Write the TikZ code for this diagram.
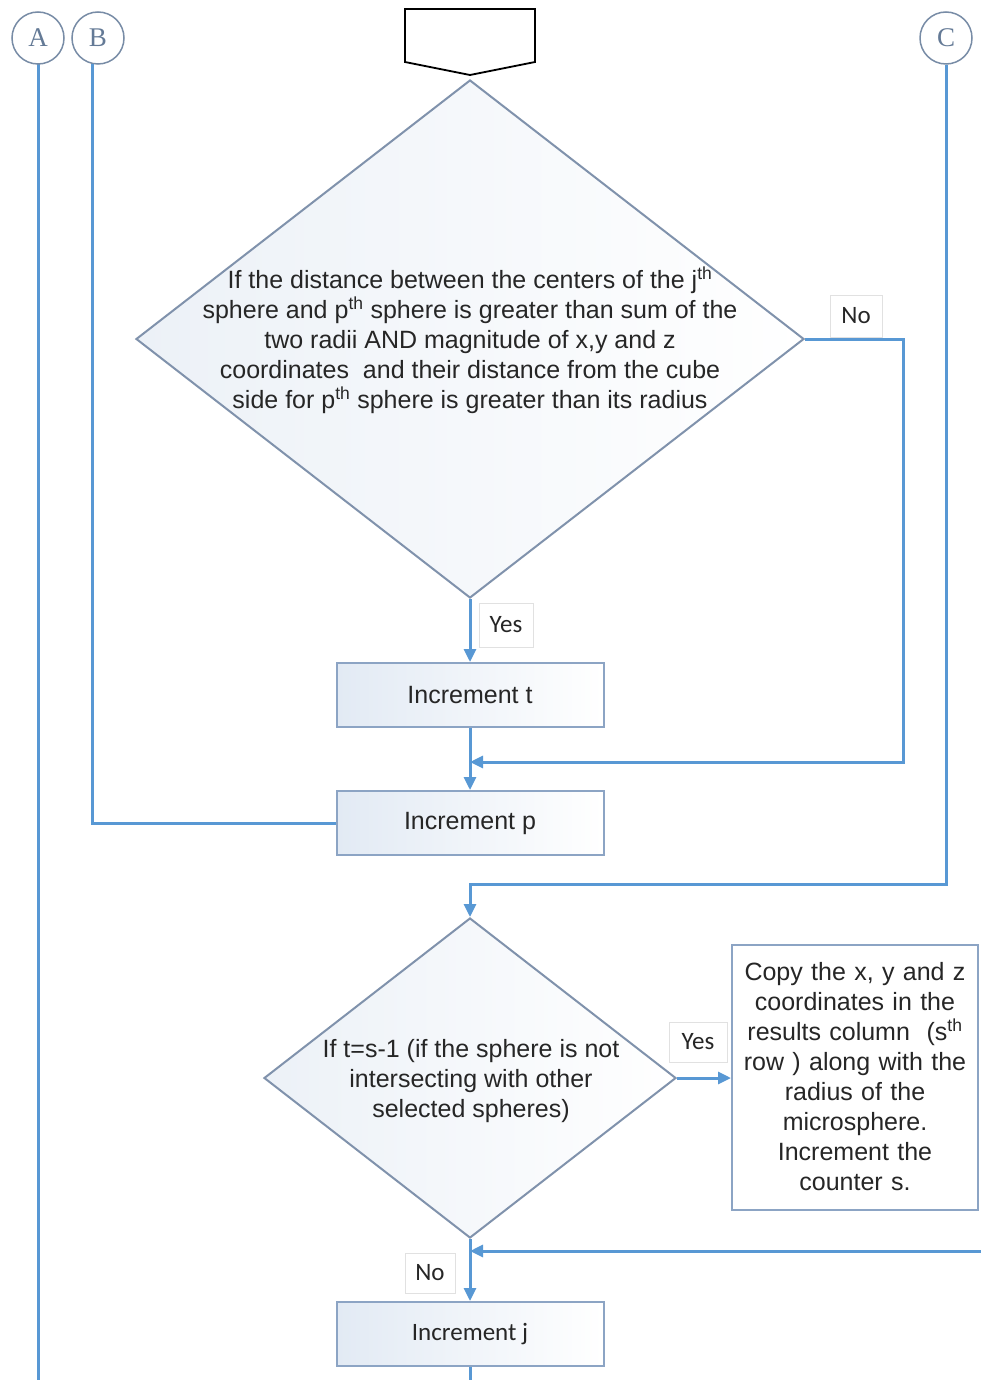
\documentclass[tikz,border=0pt]{standalone}
\usepackage{fontspec}
\setmainfont{Liberation Sans}
\newfontfamily\carlito{Carlito}
\newfontfamily\serifletter{Liberation Serif}
\usetikzlibrary{arrows.meta,shapes.geometric,calc}
\definecolor{lineblue}{RGB}{88,152,212}
\definecolor{boxborder}{RGB}{140,164,196}
\definecolor{diaborder}{RGB}{128,146,172}
\definecolor{boxfill}{RGB}{226,234,244}
\definecolor{diafill}{RGB}{236,241,247}
\definecolor{circborder}{RGB}{120,140,166}
\definecolor{letterc}{RGB}{100,122,150}
\definecolor{txt}{RGB}{38,38,38}
\definecolor{lblborder}{RGB}{225,225,225}
\tikzset{
  flow/.style={draw=lineblue, line width=3pt},
  arr/.style={-{Triangle[length=13pt,width=12pt]}},
  procbox/.style={rectangle, draw=boxborder, line width=2pt, left color=boxfill, right color=white,
    minimum width=267pt, minimum height=64pt, inner sep=0pt, text=txt, font=\fontsize{25}{30}\selectfont},
  decision/.style={diamond, draw=diaborder, line width=2pt, left color=diafill, right color=white, inner sep=0pt},
  dtext/.style={align=center, text=txt, font=\fontsize{25}{30}\selectfont, inner sep=0pt},
  connector/.style={circle, draw=circborder, line width=1.5pt, fill=white, minimum size=52pt, inner sep=0pt,
    text=letterc, font=\serifletter\fontsize{27}{27}\selectfont},
  lbl/.style={draw=lblborder, line width=0.8pt, fill=white, text=txt, inner sep=0pt,
    font=\carlito\fontsize{25}{28}\selectfont},
}
\begin{document}
\begin{tikzpicture}[x=1pt,y=-1pt]
\useasboundingbox (0,0) rectangle (981,1380);
\fill[white] (0,0) rectangle (981,1380);

% free-end coordinates
\coordinate (aBot) at (38,1380);
\coordinate (bTop) at (92,64);
\coordinate (m1) at (470,762);
\coordinate (cj) at (470,884);
\coordinate (rEdge) at (981,1251);
\coordinate (m2) at (470,1251);
\coordinate (jBot) at (470,1380);

% off-page connectors
\draw[flow] (38,64) -- (aBot);
\draw[flow] (bTop) -- (92,823);
\node[connector] (A) at (38,38) {A};
\node[connector] (B) at (98,38) {B};
\node[connector] (C) at (946,38) {C};

% top off-page reference
\draw[black, line width=1.8pt, fill=white] (405,9) -- (535,9) -- (535,62) -- (470,75) -- (405,62) -- cycle;

% decision 1
\node[decision, minimum width=668pt, minimum height=518pt] (d1) at (470,339) {};
\node[dtext] (d1t) at (470,340) {If the distance between the centers of the j\textsuperscript{th}\\
sphere and p\textsuperscript{th} sphere is greater than sum of the\\
two radii AND magnitude of x,y and z\\
coordinates\ \ and their distance from the cube\\
side for p\textsuperscript{th} sphere is greater than its radius};

% process boxes
\node[procbox] (it) at (470,695) {Increment t};
\node[procbox] (ip) at (470,823) {Increment p};
\node[procbox, font=\carlito\fontsize{25}{30}\selectfont] (ij) at (470,1334) {Increment j};

% decision 2
\node[decision, minimum width=412pt, minimum height=320pt] (d2) at (470,1078) {};
\node[dtext] (d2t) at (471,1081) {If t=s-1 (if the sphere is not\\
intersecting with other\\
selected spheres)};

% copy box
\node[rectangle, draw=boxborder, line width=2pt, fill=white, minimum width=246pt, minimum height=265pt,
  text width=240pt, align=center, inner sep=0pt, text=txt, font=\fontsize{25}{30}\selectfont]
  (cb) at (855,1077) {Copy the x, y and z\\
coordinates in the\\
results column\ \ (s\textsuperscript{th}\\
row ) along with the\\
radius of the\\
microsphere.\\
Increment the\\
counter s.};

% connectors
\draw[flow, arr] (d1.south) -- (it.north);
\draw[flow, arr] (it.south) -- (ip.north);
\draw[flow, arr] (d1.east) -- ++(98,0) |- (m1);
\draw[flow] (ip.west) -| (bTop);
\draw[flow, arr] (C.south) |- (cj) -- (d2.north);
\draw[flow, arr] (d2.east) -- (d2.east -| cb.west);
\draw[flow, arr] (rEdge) -- (m2);
\draw[flow, arr] (d2.south) -- (ij.north);
\draw[flow] (ij.south) -- (jBot);

% labels
\node[lbl, minimum width=54pt, minimum height=44pt] (yes1) at (506,625) {Yes};
\node[lbl, minimum width=52pt, minimum height=42pt] (no1) at (856,316) {No};
\node[lbl, minimum width=58pt, minimum height=40pt] (yes2) at (698,1042) {Yes};
\node[lbl, minimum width=50pt, minimum height=40pt] (no2) at (430,1273) {No};
\end{tikzpicture}
\end{document}
